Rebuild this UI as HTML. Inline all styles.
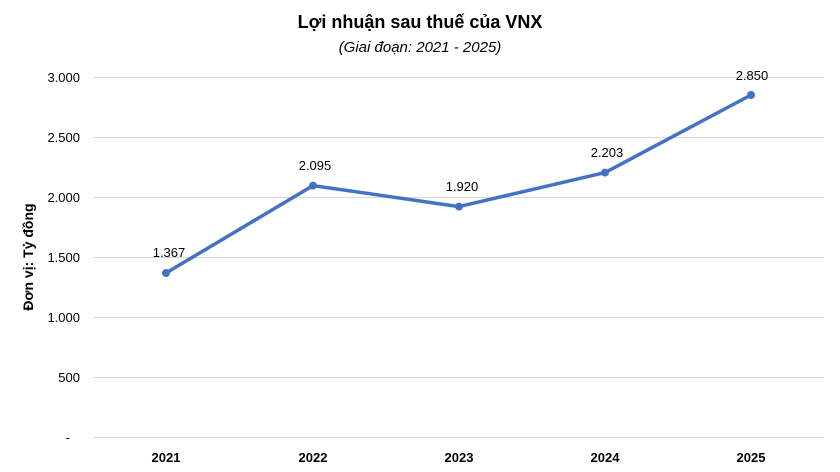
<!DOCTYPE html>
<html><head><meta charset="utf-8"><style>
body{margin:0;background:#fff;}
svg{display:block;font-family:"Liberation Sans",sans-serif;}
</style></head><body>
<svg width="840" height="472" xmlns="http://www.w3.org/2000/svg">
<rect width="840" height="472" fill="#fff"/>
<text x="420" y="28" text-anchor="middle" font-size="18" font-weight="bold" fill="#000">Lợi nhuận sau thuế của VNX</text>
<text x="420" y="52" text-anchor="middle" font-size="15" font-style="italic" fill="#000">(Giai đoạn: 2021 - 2025)</text>
<g stroke="#d9d9d9" stroke-width="1">
<line x1="93" x2="824" y1="77.5" y2="77.5"/>
<line x1="93" x2="824" y1="137.5" y2="137.5"/>
<line x1="93" x2="824" y1="197.5" y2="197.5"/>
<line x1="93" x2="824" y1="257.5" y2="257.5"/>
<line x1="93" x2="824" y1="317.5" y2="317.5"/>
<line x1="93" x2="824" y1="377.5" y2="377.5"/>
<line x1="93" x2="824" y1="437.5" y2="437.5"/>
</g>
<g font-size="13" fill="#000" text-anchor="end">
<text x="80" y="82">3.000</text>
<text x="80" y="142">2.500</text>
<text x="80" y="202">2.000</text>
<text x="80" y="262">1.500</text>
<text x="80" y="322">1.000</text>
<text x="80" y="382">500</text>
<text x="70" y="442">-</text>
</g>
<text transform="translate(33,257) rotate(-90)" text-anchor="middle" font-size="14" font-weight="bold">Đơn vị: Tỷ đồng</text>
<g font-size="13" font-weight="bold" text-anchor="middle">
<text x="166" y="462">2021</text>
<text x="313" y="462">2022</text>
<text x="459" y="462">2023</text>
<text x="605" y="462">2024</text>
<text x="751" y="462">2025</text>
</g>
<polyline points="166,273 313,185.6 459,206.6 605,172.6 751,95" fill="none" stroke="#4472C4" stroke-width="3.5" stroke-linejoin="round"/>
<g fill="#4472C4">
<circle cx="166" cy="273" r="4"/><circle cx="313" cy="185.6" r="4"/><circle cx="459" cy="206.6" r="4"/><circle cx="605" cy="172.6" r="4"/><circle cx="751" cy="95" r="4"/>
</g>
<g font-size="13" text-anchor="middle">
<text x="169" y="257">1.367</text>
<text x="315" y="170">2.095</text>
<text x="462" y="191">1.920</text>
<text x="607" y="157">2.203</text>
<text x="752" y="80">2.850</text>
</g>
</svg>
</body></html>
